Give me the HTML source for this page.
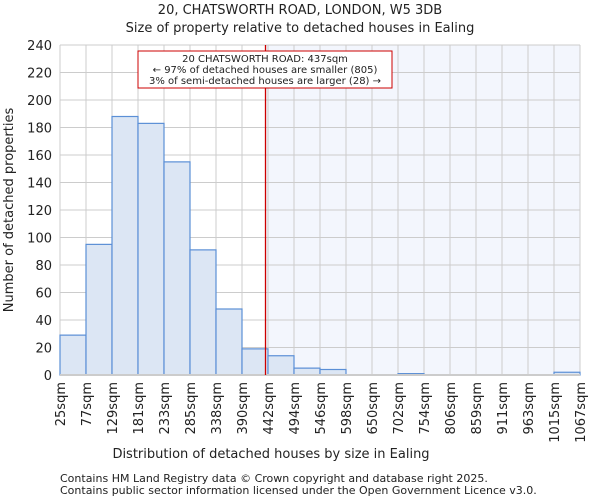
<!DOCTYPE html>
<html><head><meta charset="utf-8"><style>
body{margin:0;background:#fff;font-family:"DejaVu Sans","Liberation Sans",sans-serif}
svg text{font-family:"DejaVu Sans","Liberation Sans",sans-serif;fill:#222}
</style></head><body>
<svg id="c" width="600" height="500">
<text x="300" y="14" font-size="13" text-anchor="middle">20, CHATSWORTH ROAD, LONDON, W5 3DB</text>
<text x="300" y="32" font-size="13" text-anchor="middle">Size of property relative to detached houses in Ealing</text>
<g id="plot"></g>
<text x="271" y="458" font-size="13" text-anchor="middle">Distribution of detached houses by size in Ealing</text>
<text transform="translate(13,210) rotate(-90)" font-size="13" text-anchor="middle">Number of detached properties</text>
<text x="60" y="482" font-size="11">Contains HM Land Registry data © Crown copyright and database right 2025.</text>
<text x="60" y="494" font-size="11">Contains public sector information licensed under the Open Government Licence v3.0.</text>
</svg>
<script>
const binLabels=["25sqm","77sqm","129sqm","181sqm","233sqm","285sqm","338sqm","390sqm","442sqm","494sqm","546sqm","598sqm","650sqm","702sqm","754sqm","806sqm","859sqm","911sqm","963sqm","1015sqm","1067sqm"];
const binEdges=[25,77,129,181,233,285,338,390,442,494,546,598,650,702,754,806,859,911,963,1015,1067];
const counts=[29,95,188,183,155,91,48,19,14,5,4,0,0,1,0,0,0,0,0,2];
const yTicks=[0,20,40,60,80,100,120,140,160,180,200,220,240];
const markerValue=437;
const NS="http://www.w3.org/2000/svg";
const L=60,R=580,T=45,B=375,n=counts.length;
const xi=i=>L+(R-L)*i/n;
const xv=v=>{let i=0;while(i<binEdges.length-2&&v>binEdges[i+1])i++;return xi(i)+(v-binEdges[i])/(binEdges[i+1]-binEdges[i])*(R-L)/n;};
const y=v=>B-(B-T)*v/240;
const g=document.getElementById('plot');
function mk(t,a){const e=document.createElementNS(NS,t);for(const k in a)e.setAttribute(k,a[k]);g.appendChild(e);return e;}
const mx=xv(markerValue);
let e=mk('rect',{x:mx,y:T,width:R-mx,height:B-T,fill:'#f3f6fd'});


yTicks.forEach(t=>{let l=mk('line',{x1:L,x2:R,y1:y(t),y2:y(t),stroke:'#ccc'});


let tx=mk('text',{x:L-8,y:y(t)+5,'font-size':13,'text-anchor':'end'});tx.textContent=t;

});
binLabels.forEach((s,i)=>{let l=mk('line',{x1:xi(i),x2:xi(i),y1:T,y2:B,stroke:'#ccc'});


let tx=mk('text',{transform:`translate(${xi(i)+5},382) rotate(-90)`,'font-size':13,'text-anchor':'end'});tx.textContent=s;

});
counts.forEach((c,i)=>{if(c<=0)return;let r=mk('rect',{x:xi(i),y:y(c),width:(R-L)/n,height:B-y(c),fill:'#dce6f4',stroke:'#5b8fd6','stroke-width':1.2});

});
e=mk('line',{x1:L,x2:R,y1:B,y2:B,stroke:'#ccc','stroke-width':2});


e=mk('line',{x1:mx,x2:mx,y1:T,y2:B,stroke:'#cc0000','stroke-width':1.3});


e=mk('rect',{x:138,y:51,width:254,height:37,fill:'#fff',stroke:'#cc0000'});


["20 CHATSWORTH ROAD: 437sqm","← 97% of detached houses are smaller (805)","3% of semi-detached houses are larger (28) →"].forEach((s,i)=>{
let tx=mk('text',{x:265,y:62+i*11,'font-size':10,'text-anchor':'middle'});tx.textContent=s;

});
</script>
</body></html>
